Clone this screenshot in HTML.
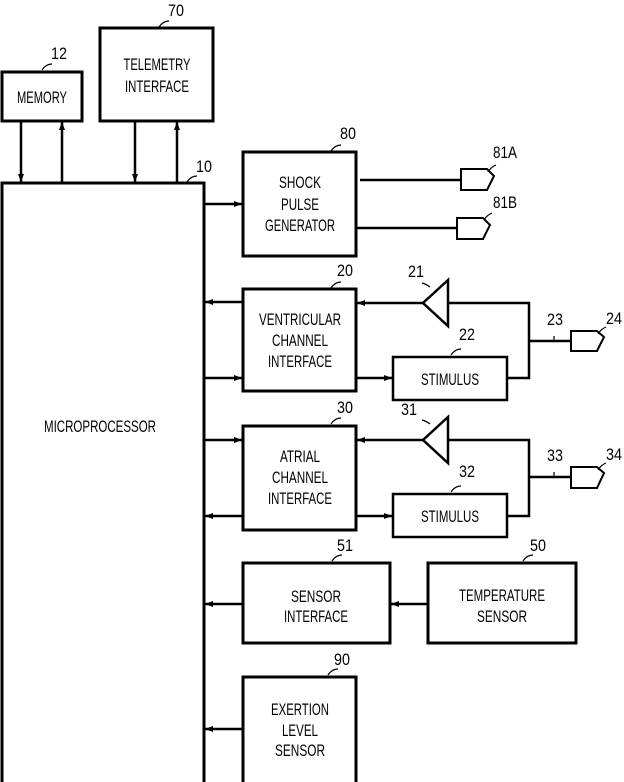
<!DOCTYPE html>
<html><head><meta charset="utf-8"><style>
html,body{margin:0;padding:0;background:#fff;width:624px;height:782px;overflow:hidden}
svg text{font-family:"Liberation Sans",sans-serif;font-size:17px;fill:#000;text-anchor:middle}
</style></head><body>
<svg width="624" height="782" viewBox="0 0 624 782" xmlns="http://www.w3.org/2000/svg">
<defs>
<marker id="a" markerWidth="8" markerHeight="6" refX="8" refY="3" orient="auto" markerUnits="userSpaceOnUse"><path d="M0,0 L8,3 L0,6 z" fill="#000"/></marker>
</defs>
<g fill="none" stroke="#000" stroke-width="3">
<rect x="2" y="72" width="80" height="49"/>
<rect x="100" y="28" width="113" height="93"/>
<rect x="2" y="183" width="202" height="620"/>
<rect x="243" y="152" width="113" height="104"/>
<rect x="243" y="289" width="113" height="102"/>
<rect x="243" y="426" width="113" height="104"/>
<rect x="243" y="563" width="147" height="80"/>
<rect x="428" y="563" width="148" height="80"/>
<rect x="243" y="677" width="113" height="110"/>
<rect x="393" y="357" width="114" height="43" stroke-width="2.5"/>
<rect x="393" y="494" width="114" height="43" stroke-width="2.5"/>
</g>
<g stroke="#000" stroke-width="2.5" fill="none">
<line x1="21" y1="121" x2="21" y2="182" marker-end="url(#a)"/>
<line x1="62" y1="183" x2="62" y2="122" marker-end="url(#a)"/>
<line x1="135" y1="121" x2="135" y2="182" marker-end="url(#a)"/>
<line x1="177" y1="183" x2="177" y2="122" marker-end="url(#a)"/>
<line x1="204" y1="204" x2="242" y2="204" marker-end="url(#a)"/>
<line x1="243" y1="302" x2="205" y2="302" marker-end="url(#a)"/>
<line x1="204" y1="378" x2="242" y2="378" marker-end="url(#a)"/>
<line x1="204" y1="440" x2="242" y2="440" marker-end="url(#a)"/>
<line x1="243" y1="516" x2="205" y2="516" marker-end="url(#a)"/>
<line x1="243" y1="604" x2="205" y2="604" marker-end="url(#a)"/>
<line x1="243" y1="729" x2="205" y2="729" marker-end="url(#a)"/>
<line x1="428" y1="604" x2="391" y2="604" marker-end="url(#a)"/>
<line x1="423" y1="303" x2="357" y2="303" marker-end="url(#a)"/>
<line x1="356" y1="378" x2="392" y2="378" marker-end="url(#a)"/>
<line x1="423" y1="440" x2="357" y2="440" marker-end="url(#a)"/>
<line x1="356" y1="516" x2="392" y2="516" marker-end="url(#a)"/>
<line x1="360" y1="180" x2="462" y2="180"/>
<line x1="356" y1="228" x2="457" y2="228"/>
<path d="M448,303 H529 V378 H507"/>
<path d="M448,440 H529 V516 H507"/>
<line x1="529" y1="341" x2="571" y2="341"/>
<line x1="529" y1="477" x2="571" y2="477"/>
<path d="M448,280 L423,303 L448,326 Z"/>
<path d="M448,417 L423,440 L448,463 Z"/>
</g>
<g stroke="#000" stroke-width="2" fill="#fff">
<path d="M461,169 H487 L494,176 L487,190 H461 Z"/>
<path d="M457,218 H483 L490,225 L483,239 H457 Z"/>
<path d="M571,331 H597 L604,337 L597,351 H571 Z"/>
<path d="M571,467 H597 L604,473 L597,488 H571 Z"/>
</g>
<g stroke="#000" stroke-width="1.2" fill="none">
<path d="M42,70 q4,-6 10,-6"/><path d="M159,27 q4,-6 10,-6"/><path d="M187,182 q4,-6 10,-6"/>
<path d="M331,151 q4,-6 10,-6"/><path d="M331,288 q4,-6 10,-6"/><path d="M331,424 q4,-6 10,-6"/>
<path d="M332,561 q4,-6 10,-6"/><path d="M523,561 q4,-6 10,-6"/><path d="M328,675 q4,-6 10,-6"/>
<path d="M451,355 q4,-6 10,-6"/><path d="M451,492 q4,-6 10,-6"/>
<path d="M488,172 q3,-5 8,-7"/><path d="M484,220 q3,-5 8,-7"/><path d="M598,334 q3,-5 8,-7"/><path d="M598,470 q3,-5 8,-7"/>
<path d="M430,287 q-4,-3 -8,-4"/><path d="M430,424 q-4,-3 -8,-4"/>
<path d="M554,341 v-5"/><path d="M554,477 v-5"/>
</g>
<g lengthAdjust="spacingAndGlyphs">
<text x="42" y="103" textLength="50" lengthAdjust="spacingAndGlyphs">MEMORY</text>
<text x="157" y="70" textLength="67" lengthAdjust="spacingAndGlyphs">TELEMETRY</text><text x="157" y="92" textLength="64" lengthAdjust="spacingAndGlyphs">INTERFACE</text>
<text x="100" y="432" textLength="112" lengthAdjust="spacingAndGlyphs">MICROPROCESSOR</text>
<text x="300" y="188" textLength="42" lengthAdjust="spacingAndGlyphs">SHOCK</text><text x="300" y="210" textLength="38" lengthAdjust="spacingAndGlyphs">PULSE</text><text x="300" y="231" textLength="70" lengthAdjust="spacingAndGlyphs">GENERATOR</text>
<text x="300" y="325" textLength="82" lengthAdjust="spacingAndGlyphs">VENTRICULAR</text><text x="300" y="346" textLength="56" lengthAdjust="spacingAndGlyphs">CHANNEL</text><text x="300" y="367" textLength="64" lengthAdjust="spacingAndGlyphs">INTERFACE</text>
<text x="300" y="462" textLength="40" lengthAdjust="spacingAndGlyphs">ATRIAL</text><text x="300" y="483" textLength="56" lengthAdjust="spacingAndGlyphs">CHANNEL</text><text x="300" y="504" textLength="64" lengthAdjust="spacingAndGlyphs">INTERFACE</text>
<text x="450" y="385" textLength="58" lengthAdjust="spacingAndGlyphs">STIMULUS</text><text x="450" y="522" textLength="58" lengthAdjust="spacingAndGlyphs">STIMULUS</text>
<text x="316" y="602" textLength="50" lengthAdjust="spacingAndGlyphs">SENSOR</text><text x="316" y="622" textLength="64" lengthAdjust="spacingAndGlyphs">INTERFACE</text>
<text x="502" y="601" textLength="86" lengthAdjust="spacingAndGlyphs">TEMPERATURE</text><text x="502" y="622" textLength="50" lengthAdjust="spacingAndGlyphs">SENSOR</text>
<text x="300" y="715" textLength="58" lengthAdjust="spacingAndGlyphs">EXERTION</text><text x="300" y="736" textLength="36" lengthAdjust="spacingAndGlyphs">LEVEL</text><text x="300" y="756" textLength="50" lengthAdjust="spacingAndGlyphs">SENSOR</text>
<text x="59" y="59" textLength="16" lengthAdjust="spacingAndGlyphs">12</text><text x="176" y="16" textLength="16" lengthAdjust="spacingAndGlyphs">70</text><text x="204" y="172" textLength="16" lengthAdjust="spacingAndGlyphs">10</text>
<text x="348" y="139" textLength="16" lengthAdjust="spacingAndGlyphs">80</text><text x="345" y="276" textLength="16" lengthAdjust="spacingAndGlyphs">20</text><text x="345" y="413" textLength="16" lengthAdjust="spacingAndGlyphs">30</text>
<text x="345" y="551" textLength="16" lengthAdjust="spacingAndGlyphs">51</text><text x="538" y="551" textLength="16" lengthAdjust="spacingAndGlyphs">50</text><text x="342" y="665" textLength="16" lengthAdjust="spacingAndGlyphs">90</text>
<text x="467" y="340" textLength="16" lengthAdjust="spacingAndGlyphs">22</text><text x="467" y="477" textLength="16" lengthAdjust="spacingAndGlyphs">32</text>
<text x="416" y="277" textLength="16" lengthAdjust="spacingAndGlyphs">21</text><text x="409" y="415" textLength="16" lengthAdjust="spacingAndGlyphs">31</text>
<text x="505" y="158" textLength="24" lengthAdjust="spacingAndGlyphs">81A</text><text x="505" y="208" textLength="24" lengthAdjust="spacingAndGlyphs">81B</text>
<text x="555" y="325" textLength="16" lengthAdjust="spacingAndGlyphs">23</text><text x="614" y="324" textLength="16" lengthAdjust="spacingAndGlyphs">24</text>
<text x="555" y="461" textLength="16" lengthAdjust="spacingAndGlyphs">33</text><text x="614" y="460" textLength="16" lengthAdjust="spacingAndGlyphs">34</text>
</g>
</svg>
</body></html>
